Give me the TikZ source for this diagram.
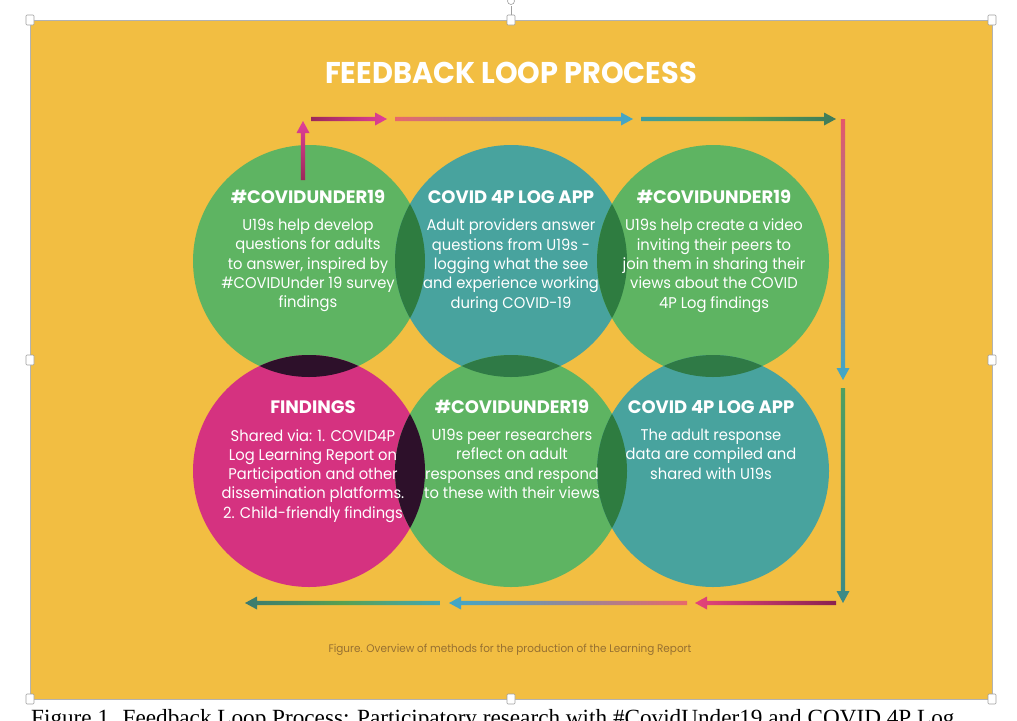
\documentclass[tikz,border=0pt]{standalone}
\usepackage{fontspec}
\setmainfont{Poppins}
\newfontfamily\bodyfont[FakeStretch=0.95]{Poppins}
\newfontfamily\headfont{Poppins}
\newfontfamily\titlefont[FakeStretch=0.96]{Poppins}
\newfontfamily\capfont{Liberation Serif}
\usetikzlibrary{calc}
\definecolor{bgorange}{RGB}{242,190,66}
\definecolor{cgreen}{RGB}{94,180,98}
\definecolor{cteal}{RGB}{72,163,158}
\definecolor{cmag}{RGB}{213,50,128}
\definecolor{lgreen}{RGB}{46,124,64}
\definecolor{lgreenb}{RGB}{47,122,70}
\definecolor{lpurple}{RGB}{45,16,42}
\definecolor{figtext}{RGB}{150,112,50}
\definecolor{amag}{RGB}{155,40,90}
\definecolor{apink}{RGB}{226,64,152}
\definecolor{acoral}{RGB}{232,104,106}
\definecolor{aredc}{RGB}{229,87,106}
\definecolor{ablue}{RGB}{63,168,200}
\definecolor{ateal}{RGB}{62,158,158}
\definecolor{amidg}{RGB}{88,160,80}
\definecolor{adkg}{RGB}{63,122,90}
\definecolor{agrn}{RGB}{79,159,96}
\definecolor{adkt}{RGB}{60,138,136}
\definecolor{adkm}{RGB}{138,34,80}
\definecolor{apinkr}{RGB}{229,68,122}
\definecolor{atealb}{RGB}{68,168,180}
\definecolor{adkt2}{RGB}{59,122,112}
\newcommand\myarrR[4]{\shade[left color=#3,right color=#4] ($(#1)+(0,-2.2)$) -- ($(#2)+(-12,-2.2)$) -- ($(#2)+(-12,-6.5)$) -- (#2) -- ($(#2)+(-12,6.5)$) -- ($(#2)+(-12,2.2)$) -- ($(#1)+(0,2.2)$) -- cycle;}
\newcommand\myarrL[4]{\shade[left color=#4,right color=#3] ($(#1)+(0,-2.2)$) -- ($(#2)+(12,-2.2)$) -- ($(#2)+(12,-6.5)$) -- (#2) -- ($(#2)+(12,6.5)$) -- ($(#2)+(12,2.2)$) -- ($(#1)+(0,2.2)$) -- cycle;}
\newcommand\myarrD[4]{\shade[top color=#3,bottom color=#4] ($(#1)+(-2.2,0)$) -- ($(#2)+(-2.2,-12)$) -- ($(#2)+(-6.5,-12)$) -- (#2) -- ($(#2)+(6.5,-12)$) -- ($(#2)+(2.2,-12)$) -- ($(#1)+(2.2,0)$) -- cycle;}
\newcommand\myarrU[4]{\shade[top color=#4,bottom color=#3] ($(#1)+(-2.2,0)$) -- ($(#2)+(-2.2,12)$) -- ($(#2)+(-6.5,12)$) -- (#2) -- ($(#2)+(6.5,12)$) -- ($(#2)+(2.2,12)$) -- ($(#1)+(2.2,0)$) -- cycle;}
\begin{document}
\begin{tikzpicture}[x=1pt,y=-1pt,
  head/.style={text=white, font=\headfont\bfseries\fontsize{18}{21}\selectfont, inner sep=0pt},
  body/.style={text=white, font=\bodyfont\fontsize{15.5}{19.3}\selectfont, align=center, inner sep=0pt, anchor=north},
  handle/.style={draw=gray!75, fill=white, line width=0.6pt, minimum width=8pt, minimum height=10pt, inner sep=0pt, rounded corners=1pt}]
\useasboundingbox (0,0) rectangle (1017,720);
\clip (0,0) rectangle (1017,720);
\fill[white] (0,0) rectangle (1017,720);
\filldraw[fill=bgorange, draw=gray!60, line width=0.7pt] (30,20) rectangle (992,699);
% rotation handle
\draw[gray!75, line width=0.6pt] (511,6) -- (511,16);
\node[draw=gray!75, fill=white, circle, inner sep=0pt, minimum size=7pt, line width=0.6pt] (rot) at (511,1) {};
% circles
\coordinate (cA) at (309,261);
\coordinate (cB) at (511,261);
\coordinate (cC) at (713,261);
\coordinate (cD) at (309,471);
\coordinate (cE) at (511,471);
\coordinate (cF) at (713,471);
\fill[cgreen] (cA) circle (116pt);
\fill[cteal] (cB) circle (116pt);
\fill[cgreen] (cC) circle (116pt);
\fill[cmag] (cD) circle (116pt);
\fill[cgreen] (cE) circle (116pt);
\fill[cteal] (cF) circle (116pt);
% lenses
\begin{scope}\clip (cA) circle (116pt); \fill[lgreen] (cB) circle (116pt); \fill[lpurple] (cD) circle (116pt);\end{scope}
\begin{scope}\clip (cB) circle (116pt); \fill[lgreen] (cC) circle (116pt); \fill[lgreenb] (cE) circle (116pt);\end{scope}
\begin{scope}\clip (cC) circle (116pt); \fill[lgreenb] (cF) circle (116pt);\end{scope}
\begin{scope}\clip (cD) circle (116pt); \fill[lpurple] (cE) circle (116pt);\end{scope}
\begin{scope}\clip (cE) circle (116pt); \fill[lgreen] (cF) circle (116pt);\end{scope}
% title
\node[text=white, font=\titlefont\bfseries\fontsize{30}{34}\selectfont, inner sep=0pt] (title) at (511,73) {FEEDBACK LOOP PROCESS};
% texts
\node[head] (hA) at (308,197) {\#COVIDUNDER19};
\node[body] (bA) at (308,219) {U19s help develop\\questions for adults\\to answer, inspired by\\\#COVIDUnder 19 survey\\findings};
\node[head] (hB) at (511,197) {COVID 4P LOG APP};
\node[body] (bB) at (511,219) {Adult providers answer\\questions from U19s -\\logging what the see\\and experience working\\during COVID-19};
\node[head] (hC) at (714,197) {\#COVIDUNDER19};
\node[body] (bC) at (714,219) {U19s help create a video\\inviting their peers to\\join them in sharing their\\views about the COVID\\4P Log findings};
\node[head] (hD) at (313,407) {FINDINGS};
\node[body] (bD) at (313,429) {Shared via: 1. COVID4P\\Log Learning Report on\\Participation and other\\dissemination platforms.\\2. Child-friendly findings};
\node[head] (hE) at (512,407) {\#COVIDUNDER19};
\node[body] (bE) at (512,429) {U19s peer researchers\\reflect on adult\\responses and respond\\to these with their views};
\node[head] (hF) at (711,407) {COVID 4P LOG APP};
\node[body] (bF) at (711,429) {The adult response\\data are compiled and\\shared with U19s};
% arrows
\coordinate (u0) at (303,180); \coordinate (u1) at (303,121);
\coordinate (t0) at (311,119); \coordinate (t1) at (387,119);
\coordinate (t2) at (395,119); \coordinate (t3) at (633,119);
\coordinate (t4) at (641,119); \coordinate (t5) at (836,119);
\coordinate (r0) at (843,119); \coordinate (r1) at (843,380);
\coordinate (r2) at (843,388); \coordinate (r3) at (843,603);
\coordinate (b0) at (836,603); \coordinate (b1) at (695,603);
\coordinate (b2) at (687,603); \coordinate (b3) at (449,603);
\coordinate (b4) at (440,603); \coordinate (b5) at (245,603);
\myarrU{u0}{u1}{amag}{apink}
\myarrR{t0}{t1}{amag}{apink}
\myarrR{t2}{t3}{acoral}{ablue}
\shade[left color=ateal,right color=adkg,middle color=amidg] ($(t4)+(0,-2.2)$) -- ($(t5)+(-12,-2.2)$) -- ($(t5)+(-12,-6.5)$) -- (t5) -- ($(t5)+(-12,6.5)$) -- ($(t5)+(-12,2.2)$) -- ($(t4)+(0,2.2)$) -- cycle;
\myarrD{r0}{r1}{aredc}{ablue}
\myarrD{r2}{r3}{agrn}{adkt}
\myarrL{b0}{b1}{adkm}{apinkr}
\myarrL{b2}{b3}{acoral}{ablue}
\shade[left color=adkt2,right color=atealb,middle color=amidg] ($(b4)+(0,-2.2)$) -- ($(b5)+(12,-2.2)$) -- ($(b5)+(12,-6.5)$) -- (b5) -- ($(b5)+(12,6.5)$) -- ($(b5)+(12,2.2)$) -- ($(b4)+(0,2.2)$) -- cycle;
% small caption
\node[text=figtext, font=\bodyfont\fontsize{11}{13}\selectfont, inner sep=0pt] (fig) at (510,650) {Figure. Overview of methods for the production of the Learning Report};
% handles
\node[handle] (h1) at (30,20) {};
\node[handle] (h2) at (511,20) {};
\node[handle] (h3) at (992,20) {};
\node[handle] (h4) at (30,360) {};
\node[handle] (h5) at (992,360) {};
\node[handle] (h6) at (30,699) {};
\node[handle] (h7) at (511,699) {};
\node[handle] (h8) at (992,699) {};
% document caption
\node[anchor=base west, font=\capfont\fontsize{23.2}{26}\selectfont, inner sep=0pt] (cap) at (31,725) {Figure 1. Feedback Loop Process: Participatory research with \#CovidUnder19 and COVID 4P Log};
\end{tikzpicture}
\end{document}
